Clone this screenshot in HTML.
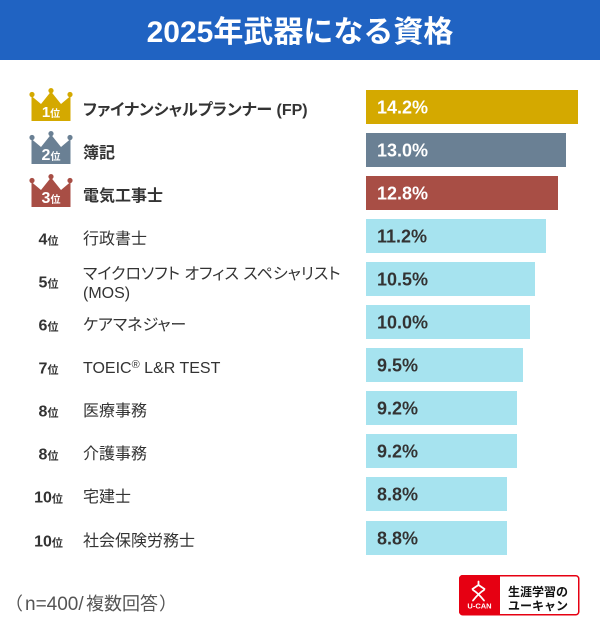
<!DOCTYPE html>
<html>
<head>
<meta charset="utf-8">
<style>
html,body{margin:0;padding:0;background:#fff;}
body{width:600px;height:636px;overflow:hidden;}
svg{display:block;}
text{font-family:"Liberation Sans","Noto Sans CJK JP",sans-serif;}
.lbl{font-size:16px;fill:#333;font-feature-settings:"palt";}
.lblb{font-size:16px;fill:#333;font-weight:bold;font-feature-settings:"palt";}
.val{font-size:18px;font-weight:bold;}
.rk{font-size:16px;font-weight:bold;fill:#333;}
.rki{font-size:11px;font-weight:bold;}
</style>
</head>
<body>
<svg width="600" height="636" viewBox="0 0 600 636" xmlns="http://www.w3.org/2000/svg">
  <rect x="0" y="0" width="600" height="60" fill="#2063c2"/>
  <text x="300" y="42" text-anchor="middle" font-size="30" font-weight="bold" fill="#fff">2025年武器になる資格</text>

  <!-- bars -->
  <rect x="366" y="90" width="212" height="34" fill="#d4a900"/>
  <rect x="366" y="133" width="200" height="34" fill="#6a8094"/>
  <rect x="366" y="176" width="192" height="34" fill="#a84e45"/>
  <rect x="366" y="219" width="180" height="34" fill="#a6e3ef"/>
  <rect x="366" y="262" width="169" height="34" fill="#a6e3ef"/>
  <rect x="366" y="305" width="164" height="34" fill="#a6e3ef"/>
  <rect x="366" y="348" width="157" height="34" fill="#a6e3ef"/>
  <rect x="366" y="391" width="151" height="34" fill="#a6e3ef"/>
  <rect x="366" y="434" width="151" height="34" fill="#a6e3ef"/>
  <rect x="366" y="477" width="141" height="34" fill="#a6e3ef"/>
  <rect x="366" y="521" width="141" height="34" fill="#a6e3ef"/>

  <!-- values -->
  <text class="val" x="377" y="113.5" fill="#fff">14.2%</text>
  <text class="val" x="377" y="156.5" fill="#fff">13.0%</text>
  <text class="val" x="377" y="199.5" fill="#fff">12.8%</text>
  <text class="val" x="377" y="242.5" fill="#333">11.2%</text>
  <text class="val" x="377" y="285.5" fill="#333">10.5%</text>
  <text class="val" x="377" y="328.5" fill="#333">10.0%</text>
  <text class="val" x="377" y="371.5" fill="#333">9.5%</text>
  <text class="val" x="377" y="414.5" fill="#333">9.2%</text>
  <text class="val" x="377" y="457.5" fill="#333">9.2%</text>
  <text class="val" x="377" y="500.5" fill="#333">8.8%</text>
  <text class="val" x="377" y="544.5" fill="#333">8.8%</text>

  <!-- crowns -->
  <g transform="translate(30,88)" fill="#d4a900">
    <circle cx="2" cy="6.5" r="2.6"/><circle cx="21" cy="2.6" r="2.6"/><circle cx="40" cy="6.5" r="2.6"/>
    <polygon points="1.5,8 11,16 21,3.5 31,16 40.5,8 40.5,33 1.5,33"/>
    <text x="21" y="29" text-anchor="middle" fill="#fff"><tspan font-size="15" font-weight="bold">1</tspan><tspan font-size="10" font-weight="bold">位</tspan></text>
  </g>
  <g transform="translate(30,131)" fill="#6a8094">
    <circle cx="2" cy="6.5" r="2.6"/><circle cx="21" cy="2.6" r="2.6"/><circle cx="40" cy="6.5" r="2.6"/>
    <polygon points="1.5,8 11,16 21,3.5 31,16 40.5,8 40.5,33 1.5,33"/>
    <text x="21" y="29" text-anchor="middle" fill="#fff"><tspan font-size="16" font-weight="bold">2</tspan><tspan font-size="10" font-weight="bold">位</tspan></text>
  </g>
  <g transform="translate(30,174)" fill="#a84e45">
    <circle cx="2" cy="6.5" r="2.6"/><circle cx="21" cy="2.6" r="2.6"/><circle cx="40" cy="6.5" r="2.6"/>
    <polygon points="1.5,8 11,16 21,3.5 31,16 40.5,8 40.5,33 1.5,33"/>
    <text x="21" y="29" text-anchor="middle" fill="#fff"><tspan font-size="16" font-weight="bold">3</tspan><tspan font-size="10" font-weight="bold">位</tspan></text>
  </g>

  <!-- rank labels 4-11 -->
  <text x="48.5" y="244.5" text-anchor="middle" fill="#333"><tspan class="rk">4</tspan><tspan class="rki">位</tspan></text>
  <text x="48.5" y="287.5" text-anchor="middle" fill="#333"><tspan class="rk">5</tspan><tspan class="rki">位</tspan></text>
  <text x="48.5" y="330.5" text-anchor="middle" fill="#333"><tspan class="rk">6</tspan><tspan class="rki">位</tspan></text>
  <text x="48.5" y="373.5" text-anchor="middle" fill="#333"><tspan class="rk">7</tspan><tspan class="rki">位</tspan></text>
  <text x="48.5" y="416.5" text-anchor="middle" fill="#333"><tspan class="rk">8</tspan><tspan class="rki">位</tspan></text>
  <text x="48.5" y="459.5" text-anchor="middle" fill="#333"><tspan class="rk">8</tspan><tspan class="rki">位</tspan></text>
  <text x="48.5" y="502.5" text-anchor="middle" fill="#333"><tspan class="rk">10</tspan><tspan class="rki">位</tspan></text>
  <text x="48.5" y="546.5" text-anchor="middle" fill="#333"><tspan class="rk">10</tspan><tspan class="rki">位</tspan></text>

  <!-- item labels -->
  <text class="lblb" x="83" y="115">ファイナンシャルプランナー (FP)</text>
  <text class="lblb" x="83" y="158">簿記</text>
  <text class="lblb" x="83" y="201">電気工事士</text>
  <text class="lbl" x="83" y="244">行政書士</text>
  <text class="lbl" x="83" y="279">マイクロソフト オフィス スペシャリスト</text>
  <text class="lbl" x="83" y="298">(MOS)</text>
  <text class="lbl" x="83" y="330">ケアマネジャー</text>
  <text class="lbl" x="83" y="373">TOEIC<tspan font-size="11" dy="-5">®</tspan><tspan dy="5"> L&amp;R TEST</tspan></text>
  <text class="lbl" x="83" y="416">医療事務</text>
  <text class="lbl" x="83" y="459">介護事務</text>
  <text class="lbl" x="83" y="502">宅建士</text>
  <text class="lbl" x="83" y="546">社会保険労務士</text>

  <!-- footer -->
  <text y="610" font-size="18" fill="#555"><tspan x="5">（</tspan><tspan x="25" font-size="19">n=400/</tspan><tspan x="86" font-size="18">複数回答</tspan><tspan x="159">）</tspan></text>

  <!-- logo -->
  <rect x="459.75" y="575.75" width="119" height="39" rx="3" fill="#fff" stroke="#e60012" stroke-width="1.5"/>
  <path d="M462.5,575 H500 V615 H462.5 A3.5,3.5 0 0 1 459,611.5 V578.5 A3.5,3.5 0 0 1 462.5,575 Z" fill="#e60012"/>
  <g stroke="#fff" stroke-width="1.8" fill="none" stroke-linecap="round">
    <path d="M478.5,581.5 V584.5"/>
    <path d="M472.5,589 L478.5,585 L484.5,589"/>
    <path d="M473,590 Q478,593 484,600.5"/>
    <path d="M484,590 Q479,593 473,600.5"/>
  </g>
  <text x="479.5" y="608.5" text-anchor="middle" font-size="7.5" font-weight="bold" fill="#fff">U-CAN</text>
  <text x="508" y="596" font-size="12" font-weight="bold" fill="#111">生涯学習の</text>
  <text x="508" y="610" font-size="12" font-weight="bold" fill="#111">ユーキャン</text>
</svg>
</body>
</html>
